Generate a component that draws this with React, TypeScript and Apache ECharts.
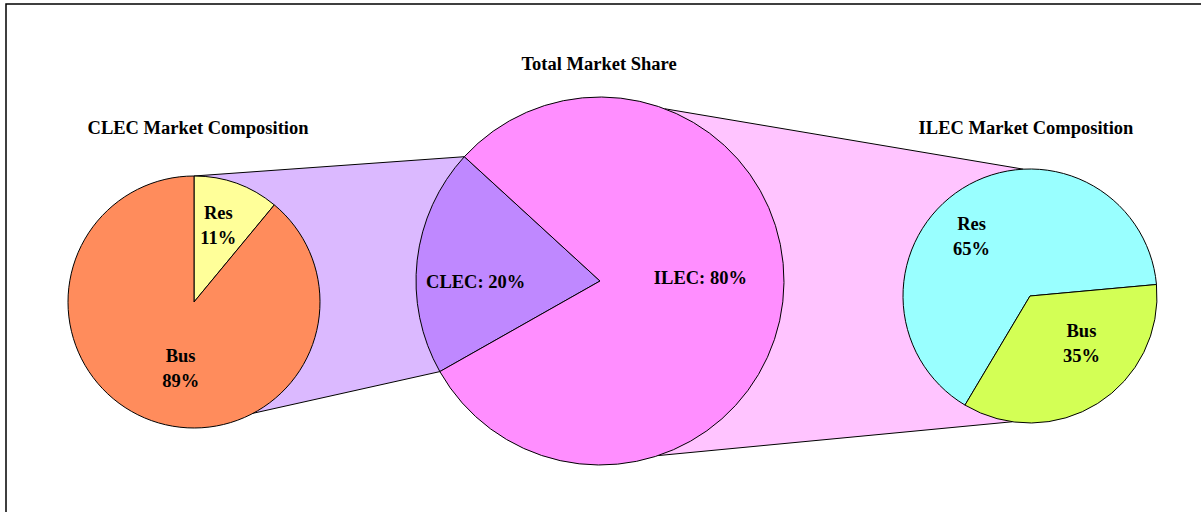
import React, { useEffect, useRef } from "react";
import * as echarts from "echarts";

// ---- data ----
const totalCategories = ["CLEC", "ILEC"];
const totalValues = [20, 80];
const clecCategories = ["Res", "Bus"];
const clecValues = [11, 89];
const ilecCategories = ["Res", "Bus"];
const ilecValues = [65, 35];
const titles = ["CLEC Market Composition", "Total Market Share", "ILEC Market Composition"];

// ---- styles ----
const FONT = "'Liberation Serif', 'Times New Roman', serif";
const clecColors = ["#FFFF99", "#FF8C5C"];
const totalColors = ["#BF88FF", "#FF8EFF"];
const ilecColors = ["#99FFFF", "#D3FF55"];
const clecOffsets = [[2, -14], [9, 4]];
const totalOffsets = [[-30, 12], [6, -14]];
const ilecOffsets = [[-23, -3], [16, -9]];

const L = { cx: 194, cy: 302, r: 126, start: 90 };
const C = { cx: 600, cy: 281, r: 184, start: 209.5 };
const R = { cx: 1030, cy: 296, r: 127, start: 239.2 };

function pt(p: { cx: number; cy: number; r: number }, deg: number) {
  const a = (deg * Math.PI) / 180;
  return [p.cx + p.r * Math.cos(a), p.cy - p.r * Math.sin(a)];
}

export default function App() {
  const ref = useRef<HTMLDivElement>(null);
  useEffect(() => {
    if (!ref.current) return;
    const chart = echarts.init(ref.current, undefined, { renderer: "svg" });
    const sum = totalValues.reduce((a, b) => a + b, 0);
    const clecEnd = C.start - (360 * totalValues[0]) / sum;

    const leftPoly = [pt(L, 90), pt(C, clecEnd), pt(C, C.start), pt(L, -62)];
    const rightPoly = [pt(C, 69.4), pt(R, 93), pt(R, 262), pt(C, -71.6)];

    const labelBase = {
      show: true,
      position: "inside",
      color: "#000",
      fontFamily: FONT,
      fontWeight: "bold",
      fontSize: 18.5,
      lineHeight: 25,
    };
    const mk = (cats: string[], vals: number[], colors: string[], offs: number[][]) =>
      cats.map((c, i) => ({
        name: c,
        value: vals[i],
        itemStyle: { color: colors[i] },
        label: { offset: offs[i] },
      }));

    const pieCommon = {
      type: "pie",
      clockwise: true,
      z: 5,
      silent: true,
      emphasis: { disabled: true },
      labelLine: { show: false },
      itemStyle: { borderColor: "#000", borderWidth: 1 },
    };

    chart.setOption({
      animation: false,
      backgroundColor: "#fff",
      graphic: [
        {
          type: "polygon",
          z: 0,
          shape: { points: leftPoly },
          style: { fill: "#DBB9FF", stroke: "#000", lineWidth: 1 },
        },
        {
          type: "polygon",
          z: 0,
          shape: { points: rightPoly },
          style: { fill: "#FFC4FF", stroke: "#000", lineWidth: 1 },
        },
        {
          type: "rect",
          z: 10,
          shape: { x: 6, y: 4, width: 1400, height: 800 },
          style: { fill: "none", stroke: "#000", lineWidth: 1.5 },
        },
        ...[
          [198, 128],
          [599, 64],
          [1026, 128],
        ].map((p, i) => ({
          type: "text",
          z: 10,
          x: p[0],
          y: p[1],
          style: {
            text: titles[i],
            fill: "#000",
            font: `bold 18.5px ${FONT}`,
            align: "center",
            verticalAlign: "middle",
          },
        })),
      ],
      series: [
        {
          ...pieCommon,
          center: [L.cx, L.cy],
          radius: L.r,
          startAngle: L.start,
          label: { ...labelBase, formatter: "{b}\n{d}%" },
          data: mk(clecCategories, clecValues, clecColors, clecOffsets),
        },
        {
          ...pieCommon,
          center: [C.cx, C.cy],
          radius: C.r,
          startAngle: C.start,
          label: { ...labelBase, formatter: "{b}: {d}%" },
          data: mk(totalCategories, totalValues, totalColors, totalOffsets),
        },
        {
          ...pieCommon,
          center: [R.cx, R.cy],
          radius: R.r,
          startAngle: R.start,
          label: { ...labelBase, formatter: "{b}\n{d}%" },
          data: mk(ilecCategories, ilecValues, ilecColors, ilecOffsets),
        },
      ],
    });
    return () => chart.dispose();
  }, []);
  return (
    <div
      ref={ref}
      style={{ position: "fixed", left: 0, top: 0, width: 1201, height: 512 }}
    />
  );
}
